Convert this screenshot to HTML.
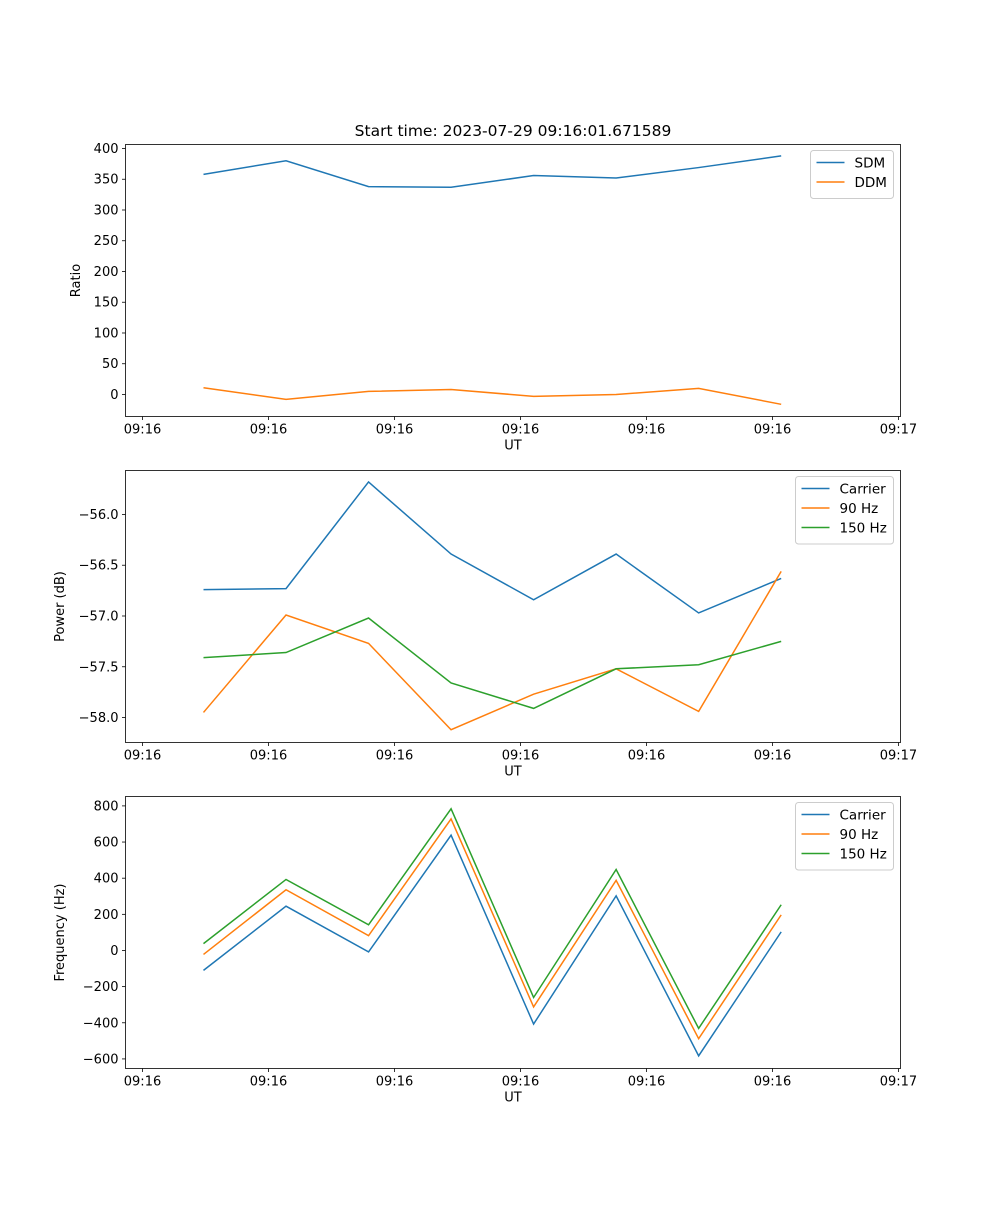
<!DOCTYPE html>
<html><head><meta charset="utf-8"><style>
body{margin:0;background:#fff;}
svg text{font-family:"DejaVu Sans","Liberation Sans",sans-serif;fill:#000;}
</style></head><body>
<svg id="fig" width="1000" height="1200" xmlns="http://www.w3.org/2000/svg"></svg>
<script>
// x values: seconds after 09:16:00
const times = [4.84, 11.39, 17.94, 24.49, 31.04, 37.59, 44.14, 50.69];
const xTickVals = [0, 10, 20, 30, 40, 50, 60];
const xTickLabels = ["09:16","09:16","09:16","09:16","09:16","09:16","09:17"];
const sdm = [358, 380, 338, 337, 356, 352, 369, 388];
const ddm = [11, -8, 5, 8, -3, 0, 10, -16];
const powCarrier = [-56.74, -56.73, -55.68, -56.39, -56.84, -56.39, -56.97, -56.63];
const pow90 = [-57.95, -56.99, -57.27, -58.12, -57.77, -57.52, -57.94, -56.56];
const pow150 = [-57.41, -57.36, -57.02, -57.66, -57.91, -57.52, -57.48, -57.25];
const freqCarrier = [-110, 245, -8, 638, -407, 302, -583, 103];
const freq90 = [-22, 336, 82, 728, -312, 388, -488, 197];
const freq150 = [38, 393, 142, 784, -260, 448, -431, 253];
const yTicksTop = [0, 50, 100, 150, 200, 250, 300, 350, 400];
const yTicksMid = [-56.0, -56.5, -57.0, -57.5, -58.0];
const yTicksBot = [-600, -400, -200, 0, 200, 400, 600, 800];

const NS = "http://www.w3.org/2000/svg";
const svg = document.getElementById("fig");
const L = 125.5, R = 900.5, XMIN = -1.35, XMAX = 60.16;
function xs(t){ return L + (t - XMIN) / (XMAX - XMIN) * (R - L); }
function el(tag, attrs, parent){
  const e = document.createElementNS(NS, tag);
  for (const k in attrs) e.setAttribute(k, attrs[k]);
  (parent || svg).appendChild(e);
  return e;
}
function txt(s, attrs, parent){ const t = el("text", attrs, parent); t.textContent = s; return t; }
const C = ["#1f77b4", "#ff7f0e", "#2ca02c"];

function panel(name, top, bot, ymin, ymax, yticks, fmt, ylabel, series, legendW){
  const g = el("g", {});
  
  
  const ys = v => bot - (v - ymin) / (ymax - ymin) * (bot - top);
  series.forEach((s, i) => {
    const pts = s.vals.map((v, j) => xs(times[j]).toFixed(2) + "," + ys(v).toFixed(2)).join(" ");
    const p = el("polyline", {points: pts, fill: "none", stroke: C[i], "stroke-width": 1.5}, g);
    
    
  });
  const frame = el("rect", {x: L, y: top, width: R - L, height: bot - top, fill: "none", stroke: "#000", "stroke-width": 0.8}, g);
  
  
  xTickVals.forEach((t, i) => {
    const x = xs(t);
    el("line", {x1: x, x2: x, y1: bot, y2: bot + 3.5, stroke: "#000", "stroke-width": 0.8}, g);
    const lab = txt(xTickLabels[i], {x: x, y: bot + 17, "font-size": 13, "text-anchor": "middle"}, g);
    
    
  });
  const xl = txt("UT", {x: (L + R) / 2, y: bot + 33, "font-size": 13, "text-anchor": "middle"}, g);
  
  
  yticks.forEach(v => {
    const y = ys(v);
    el("line", {x1: L, x2: L - 3.5, y1: y, y2: y, stroke: "#000", "stroke-width": 0.8}, g);
    const lab = txt(fmt(v), {x: L - 7, y: y + 4.5, "font-size": 13, "text-anchor": "end"}, g);
    
    
  });
  const ylx = name === "ratio" ? 80 : 64;
  const yl = txt(ylabel, {x: ylx, y: (top + bot) / 2, "font-size": 13, "text-anchor": "middle", transform: `rotate(-90 ${ylx} ${(top + bot) / 2})`}, g);
  
  
  const lg = el("g", {}, g);
  
  
  const lx = R - 7 - legendW, ly = top + 6, lh = 9 + series.length * 19.5;
  el("rect", {x: lx, y: ly, width: legendW, height: lh, rx: 3, fill: "#fff", "fill-opacity": 0.8, stroke: "#ccc", "stroke-width": 1}, lg);
  series.forEach((s, i) => {
    const yy = ly + 12 + i * 19.5;
    el("line", {x1: lx + 6, x2: lx + 34, y1: yy, y2: yy, stroke: C[i], "stroke-width": 1.5}, lg);
    const t = txt(s.label, {x: lx + 44, y: yy + 5, "font-size": 13.5}, lg);
    
    
  });
}
const minus = s => s.replace("-", "\u2212");
panel("ratio", 144.5, 416.5, -35.8, 406.5, yTicksTop, v => minus(String(v)), "Ratio",
  [{key: "sdm", label: "SDM", vals: sdm}, {key: "ddm", label: "DDM", vals: ddm}], 83);
panel("power", 470.5, 742.5, -58.246, -55.567, yTicksMid, v => minus(v.toFixed(1)), "Power (dB)",
  [{key: "carrier", label: "Carrier", vals: powCarrier}, {key: "90hz", label: "90 Hz", vals: pow90}, {key: "150hz", label: "150 Hz", vals: pow150}], 98);
panel("frequency", 796.5, 1068.5, -653, 852, yTicksBot, v => minus(String(v)), "Frequency (Hz)",
  [{key: "carrier", label: "Carrier", vals: freqCarrier}, {key: "90hz", label: "90 Hz", vals: freq90}, {key: "150hz", label: "150 Hz", vals: freq150}], 98);
const title = txt("Start time: 2023-07-29 09:16:01.671589", {x: 513, y: 136, "font-size": 15.5, "text-anchor": "middle"});


</script>
</body></html>
